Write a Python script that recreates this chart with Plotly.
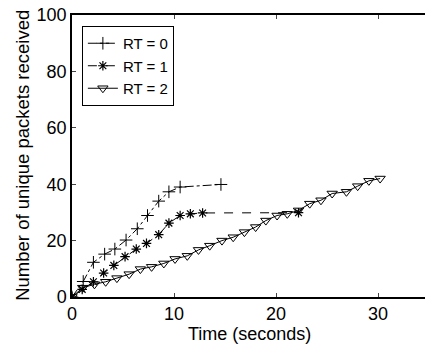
import plotly.graph_objects as go

# RT = 0
t0 = [0, 1.1, 2.1, 3.2, 4.2, 5.3, 6.4, 7.4, 8.5, 9.5, 10.6, 14.6]
y0 = [0, 5.5, 12.3, 15.2, 17.0, 20.2, 24.2, 28.9, 34.0, 37.3, 39.0, 39.9]
# RT = 1
t1 = [0, 1.0, 2.1, 3.1, 4.1, 5.2, 6.3, 7.3, 8.5, 9.5, 10.6, 11.6, 12.8, 22.2]
y1 = [0, 2.7, 5.4, 8.5, 11.2, 14.3, 17.0, 19.0, 22.1, 26.2, 28.9, 29.5, 29.8, 29.9]
# RT = 2
t2 = [0, 1.05, 2.2, 3.3, 4.4, 5.6, 6.7, 7.8, 9.0, 10.1, 11.3, 12.4, 13.5, 14.7,
      15.8, 16.9, 18.0, 19.0, 20.1, 21.1, 22.2, 23.3, 24.4, 25.5, 26.9, 28.0, 29.1, 30.2]
y2 = [0, 3.3, 4.5, 5.4, 6.7, 8.1, 9.9, 10.7, 11.9, 13.5, 14.6, 16.7, 18.2, 20.0,
      21.2, 23.0, 24.8, 27.1, 28.9, 29.5, 30.7, 33.1, 34.3, 36.7, 37.3, 39.3, 41.2, 42.0]

names = ["RT = 0", "RT = 1", "RT = 2"]
x_ticks = [0, 10, 20, 30]
y_ticks = [0, 20, 40, 60, 80, 100]
x_title = "Time (seconds)"
y_title = "Number of unique packets received"

FONT = "Liberation Sans, Arial, Helvetica, sans-serif"

fig = go.Figure()
fig.add_trace(go.Scatter(
    x=t0, y=y0, name=names[0], mode="lines+markers",
    line=dict(color="black", width=1, dash="dashdot"),
    marker=dict(symbol="cross-thin", size=9, color="black",
                line=dict(color="black", width=1)),
))
fig.add_trace(go.Scatter(
    x=t1, y=y1, name=names[1], mode="lines+markers",
    line=dict(color="black", width=1, dash="dash"),
    marker=dict(symbol="asterisk-open", size=8, color="black",
                line=dict(color="black", width=1.2)),
))
fig.add_trace(go.Scatter(
    x=t2, y=y2, name=names[2], mode="lines+markers",
    line=dict(color="black", width=1),
    marker=dict(symbol="triangle-down-open", size=9, color="black",
                line=dict(color="black", width=1)),
))

fig.update_layout(
    width=425, height=344,
    margin=dict(l=72, r=0, t=15, b=47, autoexpand=False),
    paper_bgcolor="white", plot_bgcolor="white",
    font=dict(family=FONT, size=18, color="black"),
    showlegend=True,
    legend=dict(
        x=0.028, y=0.961, xanchor="left", yanchor="top",
        bgcolor="white", bordercolor="black", borderwidth=1,
        font=dict(size=15), tracegroupgap=0, itemwidth=30,
    ),
    xaxis=dict(
        range=[0, 34.6], tickvals=x_ticks, ticks="inside", ticklen=4,
        showline=True, linecolor="black", linewidth=1.5, mirror="ticks",
        showgrid=False, zeroline=False, automargin=False,
        tickfont=dict(size=18),
    ),
    yaxis=dict(
        range=[0, 100], tickvals=y_ticks, ticks="inside", ticklen=4,
        showline=True, linecolor="black", linewidth=1.5, mirror=False,
        showgrid=False, zeroline=False, automargin=False,
        tickfont=dict(size=18),
    ),
    annotations=[
        dict(text=x_title, xref="paper", yref="paper", x=0.504, y=-0.131,
             xanchor="center", yanchor="middle", showarrow=False,
             font=dict(size=18)),
        dict(text=y_title, xref="paper", yref="paper", x=-0.139, y=0.504,
             xanchor="center", yanchor="middle", showarrow=False,
             textangle=-90, font=dict(size=18.5)),
    ],
)

fig.write_html(
    "out.html",
    config={"displayModeBar": False},
    post_script="document.body.style.margin='0';document.body.style.padding='0';",
)
